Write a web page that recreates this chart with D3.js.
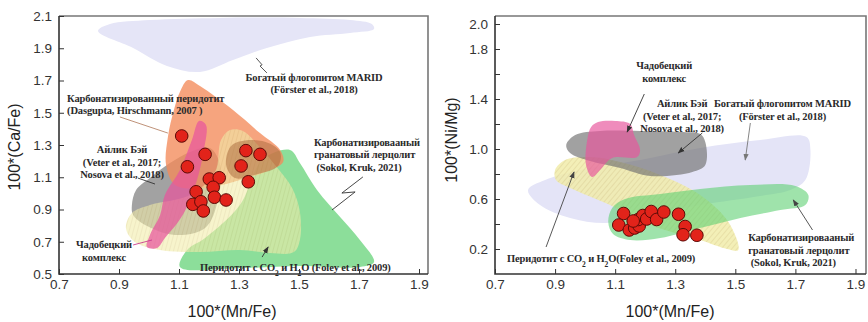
<!DOCTYPE html>
<html><head><meta charset="utf-8">
<script src="https://cdn.jsdelivr.net/npm/d3@7"></script>
<style>
body{margin:0;background:#fff;}
svg{display:block;}
.tick text{font-family:"Liberation Sans",Arial,sans-serif;font-size:13.5px;fill:#333;}
.note{font-family:"Liberation Serif","Times New Roman",serif;font-weight:bold;font-size:10.5px;letter-spacing:-0.15px;fill:#2a2a2a;}
.title{font-family:"Liberation Sans",Arial,sans-serif;font-size:16px;fill:#222;}
</style></head><body>
<svg id="chart" width="868" height="322"></svg>
<script>
// ---- axis ticks ----
const mnFeTicks = [0.7, 0.9, 1.1, 1.3, 1.5, 1.7, 1.9];
const caFeTicks = [0.5, 0.7, 0.9, 1.1, 1.3, 1.5, 1.7, 1.9, 2.1];
const niMgTicks = [0.2, 0.6, 1.0, 1.4, 1.8, 2.0];
const niMgMinorTicks = [0.4, 0.8, 1.2, 1.6];

// ---- samples: 100*(Mn/Fe) vs 100*(Ca/Fe) ----
const sampleMnFeA = [1.109, 1.187, 1.323, 1.370, 1.128, 1.307, 1.201, 1.234, 1.331, 1.214, 1.157, 1.218, 1.257, 1.146, 1.173, 1.181];
const sampleCaFe  = [1.356, 1.242, 1.265, 1.242, 1.165, 1.170, 1.089, 1.097, 1.072, 1.038, 1.010, 0.976, 0.959, 0.932, 0.948, 0.891];

// ---- samples: 100*(Mn/Fe) vs 100*(Ni/Mg) ----
const sampleMnFeB = [1.128, 1.112, 1.147, 1.165, 1.180, 1.177, 1.192, 1.205, 1.220, 1.238, 1.262, 1.311, 1.333, 1.326, 1.372, 1.160];
const sampleNiMg  = [0.484, 0.392, 0.352, 0.368, 0.384, 0.436, 0.468, 0.440, 0.500, 0.436, 0.496, 0.478, 0.380, 0.314, 0.310, 0.424];

// ---- reference fields, Ca/Fe diagram ----
const fieldMaridA = [[0.830,2.007],[0.870,2.050],[1.003,2.075],[1.237,2.088],[1.503,2.088],[1.670,2.075],[1.743,2.050],[1.750,2.019],[1.670,1.995],[1.537,1.970],[1.393,1.902],[1.280,1.827],[1.170,1.753],[1.060,1.790],[0.947,1.902]];
const fieldSokolA = [[1.103,0.543],[1.127,0.649],[1.187,0.723],[1.303,0.928],[1.377,1.207],[1.470,1.269],[1.503,1.188],[1.560,1.021],[1.637,0.853],[1.703,0.711],[1.750,0.574],[1.703,0.543],[1.503,0.550],[1.303,0.537]];
const fieldAilikA = [[0.943,0.928],[0.957,1.021],[1.003,1.095],[1.070,1.188],[1.137,1.257],[1.203,1.281],[1.237,1.176],[1.230,0.959],[1.187,0.785],[1.087,0.742],[0.987,0.804],[0.947,0.866]];
const fieldDasguptaA = [[1.130,1.703],[1.170,1.666],[1.280,1.517],[1.370,1.374],[1.437,1.269],[1.447,1.195],[1.387,1.133],[1.303,1.083],[1.187,1.033],[1.087,1.052],[1.057,1.176],[1.063,1.350],[1.083,1.517],[1.103,1.629]];
const fieldFoleyA = [[0.923,0.785],[0.943,0.878],[1.003,0.928],[1.137,0.990],[1.220,1.133],[1.240,1.331],[1.270,1.393],[1.313,1.387],[1.363,1.300],[1.420,1.176],[1.477,1.033],[1.503,0.884],[1.503,0.711],[1.483,0.636],[1.403,0.630],[1.303,0.649],[1.170,0.636],[1.037,0.649],[0.953,0.698]];
const fieldBrownA = [[1.277,1.300],[1.377,1.325],[1.437,1.257],[1.430,1.170],[1.363,1.120],[1.287,1.095],[1.257,1.176]];
const fieldChadA = [[1.167,1.449],[1.190,1.424],[1.183,1.269],[1.160,1.083],[1.130,0.928],[1.097,0.822],[1.053,0.723],[1.027,0.661],[0.993,0.667],[1.003,0.742],[1.037,0.866],[1.053,0.990],[1.103,1.145],[1.143,1.331]];

// ---- reference fields, Ni/Mg diagram ----
const fieldMaridB = [[0.810,0.672],[0.867,0.752],[0.983,0.832],[1.183,0.912],[1.383,1.008],[1.583,1.072],[1.737,1.096],[1.750,0.992],[1.733,0.752],[1.683,0.672],[1.583,0.624],[1.383,0.552],[1.183,0.456],[1.067,0.408],[0.950,0.448],[0.850,0.552]];
const fieldFoleyB = [[0.900,0.832],[0.933,0.912],[1.017,0.936],[1.117,0.896],[1.250,0.792],[1.383,0.632],[1.477,0.416],[1.510,0.192],[1.473,0.200],[1.383,0.272],[1.217,0.392],[1.083,0.552],[0.950,0.688],[0.903,0.752]];
const fieldAilikB = [[0.937,1.032],[0.967,1.112],[1.050,1.144],[1.183,1.144],[1.317,1.136],[1.383,1.120],[1.400,1.056],[1.400,0.872],[1.357,0.816],[1.217,0.784],[1.117,0.848],[1.017,0.904],[0.950,0.968]];
const fieldChadB = [[1.043,1.216],[1.100,1.224],[1.150,1.200],[1.163,1.112],[1.183,0.992],[1.173,0.936],[1.090,0.928],[1.050,0.832],[1.023,0.776],[1.003,0.872],[1.007,1.072],[1.020,1.176]];
const fieldSokolB = [[1.077,0.416],[1.090,0.528],[1.133,0.600],[1.250,0.640],[1.383,0.680],[1.550,0.712],[1.700,0.704],[1.743,0.632],[1.733,0.552],[1.650,0.512],[1.517,0.448],[1.383,0.368],[1.250,0.288],[1.150,0.272],[1.093,0.320]];

// ---- annotations ----
const notesA = [
  {lines:["Богатый флогопитом MARID","(Förster et al., 2018)"], at:[1.550,1.697], anchor:"middle"},
  {lines:["Карбонатизированный перидотит","(Dasgupta, Hirschmann, 2007 )"], at:[0.727,1.567], anchor:"start"},
  {lines:["Айлик Бэй","(Veter et al., 2017;","Nosova et al., 2018)"], at:[0.910,1.250], anchor:"middle"},
  {lines:["Чадобецкий","комплекс"], at:[0.850,0.661], anchor:"middle"},
  {lines:["Карбонатизировааный","гранатовый лерцолит"," (Sokol, Kruk, 2021)"], at:[1.550,1.294], anchor:"start"},
  {lines:["Перидотит с CO₂ и H₂O (Foley et al., 2009)"], at:[1.170,0.519], anchor:"start"}
];
const leadersA = [
  {pts:[[1.357,1.840],[1.377,1.797],[1.370,1.790],[1.393,1.747]], color:"#444", arrow:false},
  {pts:[[0.903,1.474],[1.063,1.374]], color:"#b8866a", arrow:false},
  {pts:[[0.963,1.095],[1.020,1.058]], color:"#333", arrow:false},
  {pts:[[0.947,0.680],[1.010,0.711]], color:"#cc3d8f", arrow:false},
  {pts:[[1.713,1.102],[1.643,1.002],[1.687,1.009],[1.610,0.897]], color:"#333", arrow:false},
  {pts:[[1.377,0.605],[1.397,0.667]], color:"#333", arrow:true}
];
const notesB = [
  {lines:["Чадобецкий","комплекс"], at:[1.263,1.640], anchor:"middle"},
  {lines:["Айлик Бэй","(Veter et al., 2017;","Nosova et al., 2018)"], at:[1.323,1.336], anchor:"middle"},
  {lines:["Богатый флогопитом MARID","(Förster et al., 2018)"], at:[1.657,1.336], anchor:"middle"},
  {lines:["Карбонатизировааный","гранатовый лерцолит"," (Sokol, Kruk, 2021)"], at:[1.543,0.264], anchor:"start"},
  {lines:["Перидотит с CO₂ и H₂O(Foley et al., 2009)"], at:[0.740,0.096], anchor:"start"}
];
const leadersB = [
  {pts:[[1.197,1.440],[1.140,1.136]], color:"#333", arrow:true},
  {pts:[[1.390,1.128],[1.310,0.968]], color:"#333", arrow:true},
  {pts:[[1.550,1.208],[1.533,0.912]], color:"#777", arrow:true},
  {pts:[[1.757,0.352],[1.693,0.592]], color:"#444", arrow:true},
  {pts:[[0.870,0.216],[0.963,0.816]], color:"#444", arrow:true}
];

const svg = d3.select("#chart");
const defs = svg.append("defs");

// hatched fill for the Foley field
function hatch(id, angle) {
  const p = defs.append("pattern").attr("id", id).attr("patternUnits", "userSpaceOnUse")
    .attr("width", 4).attr("height", 4).attr("patternTransform", `rotate(${angle})`);
  p.append("rect").attr("width", 4).attr("height", 4).attr("fill", "#f1ecaa");
  p.append("line").attr("x1", 0).attr("y1", 0).attr("x2", 0).attr("y2", 4)
    .attr("stroke", "#dccf8a").attr("stroke-width", 1.2);
}
hatch("hatchA", 15);
hatch("hatchB", 40);

["#333", "#444", "#777"].forEach((c, i) => {
  defs.append("marker").attr("id", "arr" + i).attr("viewBox", "0 0 8 8")
    .attr("refX", 7).attr("refY", 4).attr("markerWidth", 7).attr("markerHeight", 7)
    .attr("orient", "auto").attr("markerUnits", "userSpaceOnUse")
    .append("path").attr("d", "M0,1 L8,4 L0,7 Z").attr("fill", c);
});
const arrowId = c => "arr" + ["#333", "#444", "#777"].indexOf(c);

function panel(cfg) {
  const x = d3.scaleLinear().domain(cfg.xDomain).range(cfg.xRange);
  const y = d3.scaleLinear().domain(cfg.yDomain).range(cfg.yRange);
  const g = svg.append("g");
  const clipId = cfg.id + "clip";
  defs.append("clipPath").attr("id", clipId).append("rect")
    .attr("x", cfg.xRange[0]).attr("y", cfg.yRange[1])
    .attr("width", cfg.xRange[1] - cfg.xRange[0]).attr("height", cfg.yRange[0] - cfg.yRange[1]);

  const area = d3.line().x(d => x(d[0])).y(d => y(d[1])).curve(d3.curveCatmullRomClosed.alpha(0.5));
  const fields = g.append("g").attr("clip-path", `url(#${clipId})`);
  cfg.fields.forEach(f => {
    fields.append("path").attr("d", area(f.pts)).attr("fill", f.fill).attr("opacity", f.op);
  });

  // leader lines
  const ln = d3.line().x(d => x(d[0])).y(d => y(d[1]));
  cfg.leaders.forEach(l => {
    const p = g.append("path").attr("d", ln(l.pts)).attr("fill", "none")
      .attr("stroke", l.color).attr("stroke-width", 0.9);
    if (l.arrow) p.attr("marker-end", `url(#${arrowId(l.color)})`);
  });

  // samples
  g.append("g").selectAll("circle").data(cfg.sx.map((v, i) => [v, cfg.sy[i]])).join("circle")
    .attr("cx", d => x(d[0])).attr("cy", d => y(d[1])).attr("r", 6.3)
    .attr("fill", "#e2231a").attr("stroke", "#5c0b07").attr("stroke-width", 1);

  // notes
  cfg.notes.forEach(n => {
    const t = g.append("text").attr("class", "note")
      .attr("x", x(n.at[0])).attr("y", y(n.at[1])).attr("text-anchor", n.anchor);
    n.lines.forEach((line, i) => {
      const row = t.append("tspan").attr("x", x(n.at[0])).attr("dy", i ? 12.5 : 0);
      line.split("₂").forEach((part, j) => {
        if (j) row.append("tspan").attr("font-size", "7.5px").attr("baseline-shift", "sub").text("2");
        row.append("tspan").text(part);
      });
    });
  });

  // frame
  const [x0, x1] = cfg.xRange, [yb, yt] = cfg.yRange;
  g.append("path").attr("d", `M${x0},${yt}H${x1}V${yb}`).attr("fill", "none").attr("stroke", "#777").attr("stroke-width", 1.6);
  g.append("path").attr("d", `M${x0},${yt}V${yb}H${x1}`).attr("fill", "none").attr("stroke", "#333").attr("stroke-width", 1.6);

  // axes with inward ticks
  const ax = g.append("g").attr("transform", `translate(0,${yb})`)
    .call(d3.axisBottom(x).tickValues(mnFeTicks).tickFormat(d3.format(".1f")).tickSizeInner(-5).tickSizeOuter(0).tickPadding(5));
  ax.select(".domain").remove();
  ax.selectAll(".tick line").attr("stroke", "#333");
  const ay = g.append("g").attr("transform", `translate(${x0},0)`)
    .call(d3.axisLeft(y).tickValues(cfg.yTicks).tickFormat(d3.format(".1f")).tickSizeInner(-5).tickSizeOuter(0).tickPadding(7));
  ay.select(".domain").remove();
  ay.selectAll(".tick line").attr("stroke", "#333");
  if (cfg.yMinor) {
    const am = g.append("g").attr("transform", `translate(${x0},0)`)
      .call(d3.axisLeft(y).tickValues(cfg.yMinor).tickFormat("").tickSizeInner(-5).tickSizeOuter(0));
    am.select(".domain").remove();
    am.selectAll(".tick line").attr("stroke", "#333");
  }

  g.append("text").attr("class", "title").attr("text-anchor", "middle")
    .attr("x", cfg.xTitlePos[0]).attr("y", cfg.xTitlePos[1]).text("100*(Mn/Fe)");
  g.append("text").attr("class", "title").attr("text-anchor", "middle")
    .attr("transform", `translate(${cfg.yTitlePos[0]},${cfg.yTitlePos[1]}) rotate(-90)`).text(cfg.yTitle);
}

panel({
  id: "a", xDomain: [0.7, 1.93], xRange: [59, 428], yDomain: [0.5, 2.1], yRange: [274, 16],
  yTicks: caFeTicks, yTitle: "100*(Ca/Fe)", xTitlePos: [232, 317], yTitlePos: [20, 147],
  fields: [
    {pts: fieldMaridA, fill: "#e5e5f7", op: 1},
    {pts: fieldSokolA, fill: "#5fd173", op: 0.72},
    {pts: fieldAilikA, fill: "#7a7a7a", op: 0.7},
    {pts: fieldDasguptaA, fill: "#f48a5a", op: 0.78},
    {pts: fieldFoleyA, fill: "url(#hatchA)", op: 0.6},
    {pts: fieldBrownA, fill: "#a8683a", op: 0.5},
    {pts: fieldChadA, fill: "#e8559c", op: 0.72}
  ],
  leaders: leadersA, notes: notesA, sx: sampleMnFeA, sy: sampleCaFe
});

panel({
  id: "b", xDomain: [0.7, 1.935], xRange: [495, 866], yDomain: [0, 2.064], yRange: [274, 16],
  yTicks: niMgTicks, yMinor: niMgMinorTicks, yTitle: "100*(Ni/Mg)", xTitlePos: [670, 317], yTitlePos: [457, 140],
  fields: [
    {pts: fieldMaridB, fill: "#e4e4f7", op: 1},
    {pts: fieldFoleyB, fill: "url(#hatchB)", op: 0.85},
    {pts: fieldAilikB, fill: "#707070", op: 0.66},
    {pts: fieldChadB, fill: "#e8559c", op: 0.68},
    {pts: fieldSokolB, fill: "#5fd173", op: 0.6}
  ],
  leaders: leadersB, notes: notesB, sx: sampleMnFeB, sy: sampleNiMg
});
</script></body></html>
